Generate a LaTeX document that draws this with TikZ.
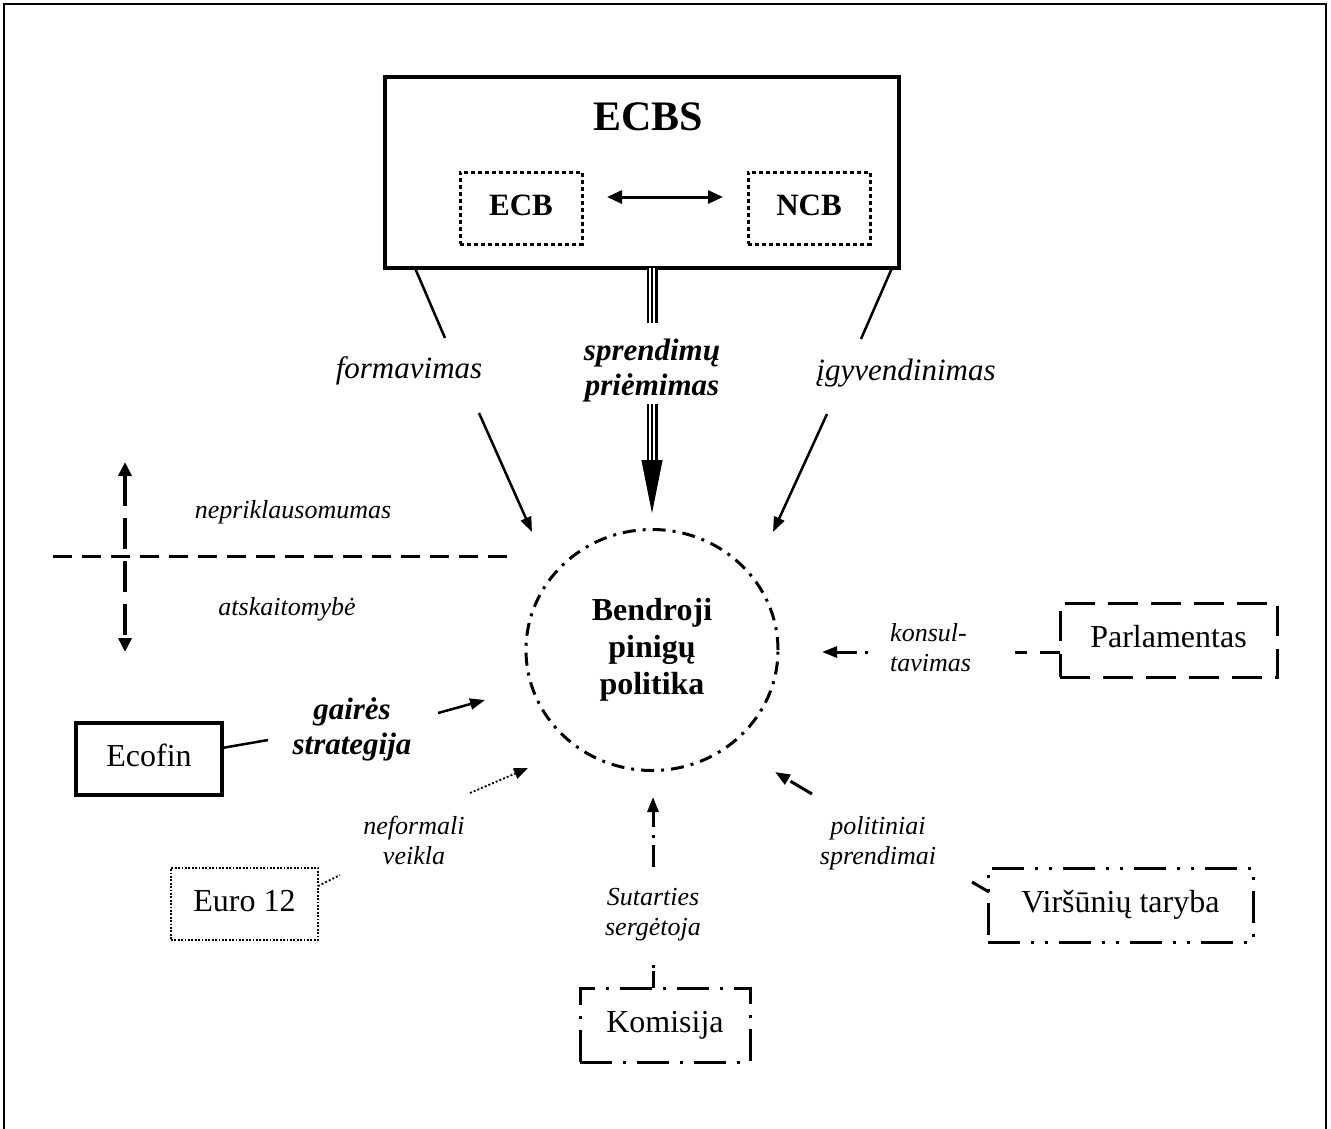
\documentclass[tikz,border=0pt]{standalone}
\usepackage{fontspec}
\setmainfont{Liberation Serif}
\usetikzlibrary{arrows.meta,shapes.geometric}
\begin{document}
\begin{tikzpicture}[x=1pt,y=-1pt,
  boxtxt/.style={inner sep=0pt, font=\fontsize{32}{37}\selectfont, text height=22pt, text depth=7pt},
  lbl/.style={inner sep=0pt, font=\fontsize{26}{30}\selectfont\itshape, align=center, anchor=base},
  lblbig/.style={inner sep=0pt, font=\fontsize{31}{36}\selectfont\itshape, align=center, anchor=base},
  lblbi/.style={inner sep=0pt, font=\fontsize{31}{35}\selectfont\bfseries\itshape, align=center, anchor=base},
  conn/.style={line width=2.5pt},
  smalltip/.style={-{Triangle[length=15pt,width=11pt]}},
  dotbox/.style={draw, line width=3pt, dash pattern=on 4pt off 3pt},
  dashbox/.style={draw, line width=3pt, dash pattern=on 30pt off 13pt},
  dashdotbox/.style={draw, line width=3pt, dash pattern=on 32pt off 11pt on 3pt off 11pt},
  dashdotdotbox/.style={draw, line width=3pt, dash pattern=on 32pt off 11pt on 3pt off 11pt on 3pt off 11pt},
  thindotbox/.style={draw, line width=1.8pt, dash pattern=on 1.8pt off 1.6pt},
]
\useasboundingbox (0,0) rectangle (1331,1128);
\begin{scope}
\clip (0,0) rectangle (1331,1128);
\draw[line width=2pt] (4,4) rectangle (1326,1145);
\end{scope}

% ECBS
\node[draw, line width=3.5pt, minimum width=514pt, minimum height=191pt, inner sep=0pt] (ecbs) at (642,172.5) {};
\node[inner sep=0pt, anchor=base, font=\fontsize{42}{48}\selectfont\bfseries] (ecbstitle) at (648,130) {ECBS};
\node[boxtxt, dotbox, minimum width=122pt, minimum height=72pt, font=\fontsize{31}{36}\selectfont\bfseries] (ecb) at (521,208) {ECB};
\node[boxtxt, dotbox, minimum width=122pt, minimum height=72pt, font=\fontsize{31}{36}\selectfont\bfseries] (ncb) at (809,208) {NCB};
\coordinate (en1) at (607,197);
\coordinate (en2) at (723,197);
\draw[line width=3pt, {Triangle[length=15pt,width=13pt]}-{Triangle[length=15pt,width=13pt]}] (en1) -- (en2);

% central circle
\node[ellipse, draw, line width=3pt, dash pattern=on 13pt off 7pt on 3pt off 7pt,
      minimum width=252pt, minimum height=241pt, inner sep=0pt, align=center,
      font=\fontsize{32}{37}\selectfont\bfseries] (bpp) at (652,650) {Bendroji\\pinigų\\politika};

% top labels
\node[lblbig] (form) at (409,378) {formavimas};
\node[lblbig] (igyv) at (906,380) {įgyvendinimas};
\node[lblbi] (spr) at (652,395) {sprendimų\\priėmimas};

\coordinate (f1) at (415,268); \coordinate (f2) at (445,338);
\coordinate (f3) at (479,413); \coordinate (f4) at (532,532);
\draw[conn] (f1) -- (f2);
\draw[conn, smalltip] (f3) -- (f4);

\coordinate (i1) at (892,268); \coordinate (i2) at (861,339);
\coordinate (i3) at (827,414); \coordinate (i4) at (773,532);
\draw[conn] (i1) -- (i2);
\draw[conn, smalltip] (i3) -- (i4);

\coordinate (t1) at (652,268); \coordinate (t2) at (652,323);
\coordinate (t3) at (652,404); \coordinate (t4) at (652,513); \coordinate (t5) at (652,462);
\foreach \a/\b in {t1/t2, t3/t5} {
  \draw[line width=11pt] (\a) -- (\b);
  \draw[white, line width=6.6pt] (\a) -- (\b);
  \draw[line width=2.2pt] (\a) -- (\b);
}
\draw[line width=1pt, -{Triangle[length=53pt,width=21pt]}] (t5) -- (t4);

% left cross
\coordinate (v1) at (125,462); \coordinate (v2) at (125,652);
\draw[line width=3.5pt, dash pattern=on 31pt off 12pt, {Triangle[length=14pt,width=13pt]}-{Triangle[length=14pt,width=13pt]}] (v1) -- (v2);
\coordinate (h1) at (53,556); \coordinate (h2) at (510,556);
\draw[line width=3pt, dash pattern=on 19pt off 10pt] (h1) -- (h2);
\node[lbl] (nepr) at (293,518) {nepriklausomumas};
\node[lbl] (atsk) at (287,615) {atskaitomybė};

% Ecofin
\node[boxtxt, draw, line width=3.5pt, minimum width=146pt, minimum height=72pt] (ecofin) at (149,759) {Ecofin};
\node[lblbi] (gair) at (352,754) {gairės\\strategija};
\coordinate (e1) at (222,748); \coordinate (e2) at (268,740);
\coordinate (e3) at (438,713); \coordinate (e4) at (485,700);
\draw[conn] (e1) -- (e2);
\draw[conn, smalltip] (e3) -- (e4);

% Euro 12
\node[boxtxt, thindotbox, minimum width=147pt, minimum height=72pt] (euro) at (244.5,904) {Euro 12};
\node[lbl] (nefo) at (414,864) {neformali\\veikla};
\coordinate (u1) at (318,886); \coordinate (u2) at (340,875);
\coordinate (u3) at (470,793); \coordinate (u4) at (528,768);
\draw[line width=1.8pt, dash pattern=on 2pt off 2pt] (u1) -- (u2);
\draw[line width=1.8pt, dash pattern=on 2pt off 2pt, -{Triangle[length=14pt,width=11pt]}] (u3) -- (u4);

% Komisija
\node[boxtxt, dashdotbox, minimum width=170pt, minimum height=74pt] (komi) at (665,1025) {Komisija};
\node[lbl] (sut) at (653,935) {Sutarties\\sergėtoja};
\coordinate (k1) at (653,988); \coordinate (k2) at (653,965);
\coordinate (k3) at (653,867); \coordinate (k4) at (653,797);
\draw[line width=3pt, dash pattern=on 17pt off 3pt on 3pt off 10pt] (k1) -- (k2);
\draw[line width=3pt, dash pattern=on 22pt off 7pt on 3pt off 8pt on 40pt, smalltip] (k3) -- (k4);

% Parlamentas
\node[boxtxt, dashbox, minimum width=217pt, minimum height=74pt] (parl) at (1168.5,640) {Parlamentas};
\node[lbl, align=left, anchor=base west] (kons) at (890,671) {konsul-\\tavimas};
\coordinate (p1) at (1060,652); \coordinate (p2) at (1015,652);
\coordinate (p3) at (868,652); \coordinate (p4) at (822,652);
\draw[line width=3pt, dash pattern=on 20pt off 13pt] (p1) -- (p2);
\draw[line width=3pt, dash pattern=on 3pt off 8pt on 40pt, smalltip] (p3) -- (p4);

% Virsuniu taryba
\node[boxtxt, dashdotdotbox, minimum width=265pt, minimum height=74pt] (virs) at (1120.5,905) {Viršūnių taryba};
\node[lbl] (polit) at (878,864) {politiniai\\sprendimai};
\coordinate (s1) at (989,892); \coordinate (s2) at (972,882);
\coordinate (s3) at (812,794); \coordinate (s4) at (775,772);
\draw[line width=3pt] (s1) -- (s2);
\draw[line width=3pt, dash pattern=on 25pt off 5pt on 30pt, smalltip] (s3) -- (s4);
\end{tikzpicture}
\end{document}
